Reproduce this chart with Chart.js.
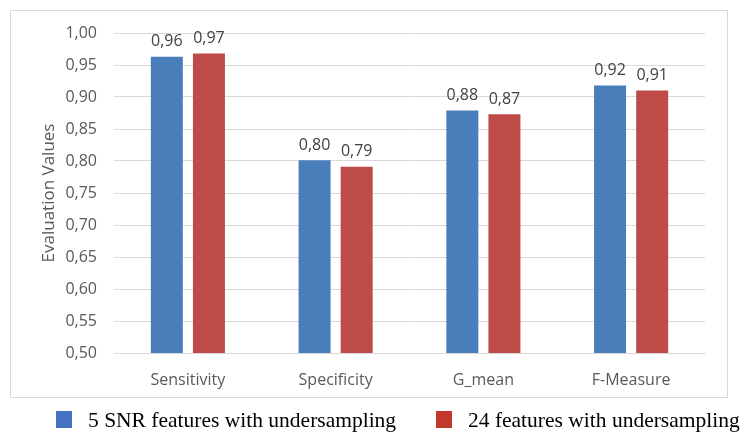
<!DOCTYPE html>
<html>
<head>
<meta charset="utf-8">
<script src="https://cdn.jsdelivr.net/npm/chart.js@4"></script>
<style>
html,body{margin:0;padding:0;background:#fff;}
#wrap{width:743px;height:434px;position:relative;}
</style>
</head>
<body>
<div id="wrap"><canvas id="c" width="743" height="434"></canvas></div>
<script>
const categories = ["Sensitivity", "Specificity", "G_mean", "F-Measure"];
const series1Name = "5 SNR features with undersampling";
const series2Name = "24 features with undersampling";
const series1 = [0.963, 0.801, 0.879, 0.918];
const series2 = [0.968, 0.791, 0.873, 0.910];
const yTicks = [0.50, 0.55, 0.60, 0.65, 0.70, 0.75, 0.80, 0.85, 0.90, 0.95, 1.00];

const fmt = v => v.toFixed(2).replace('.', ',');
const TXT = '#595959';
const SANS = '"Open Sans", "Noto Sans", sans-serif';

const deco = {
  id: 'deco',
  beforeDraw(chart) {
    const ctx = chart.ctx;
    ctx.save();
    ctx.fillStyle = '#fff';
    ctx.fillRect(0, 0, chart.width, chart.height);
    ctx.strokeStyle = '#d9d9d9';
    ctx.lineWidth = 1;
    ctx.strokeRect(10.5, 10.5, 717, 387);
    ctx.restore();
  },
  afterDraw(chart) {
    const ctx = chart.ctx;
    ctx.save();
    // value labels
    ctx.font = '16px ' + SANS;
    ctx.fillStyle = '#404040';
    ctx.textAlign = 'center';
    ctx.textBaseline = 'bottom';
    chart.data.datasets.forEach((ds, i) => {
      const meta = chart.getDatasetMeta(i);
      meta.data.forEach((bar, j) => {
        ctx.fillText(fmt(ds.data[j]), bar.x, bar.y - 7);
      });
    });
    // y axis title
    ctx.save();
    ctx.translate(49, 193);
    ctx.rotate(-Math.PI / 2);
    ctx.textAlign = 'center';
    ctx.textBaseline = 'middle';
    ctx.fillStyle = TXT;
    ctx.font = '17px ' + SANS;
    ctx.fillText('Evaluation Values', 0, 0);
    ctx.restore();
    // legend
    const items = [
      {x: 56, color: '#4472C4', label: chart.data.datasets[0].label},
      {x: 436, color: '#C0392B', label: chart.data.datasets[1].label}
    ];
    ctx.font = '21.5px "Liberation Serif", "Times New Roman", serif';
    ctx.textAlign = 'left';
    ctx.textBaseline = 'middle';
    items.forEach(it => {
      ctx.fillStyle = it.color;
      ctx.fillRect(it.x, 411, 16, 17);
      ctx.fillStyle = '#000';
      ctx.fillText(it.label, it.x + 32, 421);
    });
    ctx.restore();
  }
};

new Chart(document.getElementById('c'), {
  type: 'bar',
  data: {
    labels: categories,
    datasets: [
      {label: series1Name, data: series1, backgroundColor: '#4A7EBB', categoryPercentage: 0.57, barPercentage: 0.76},
      {label: series2Name, data: series2, backgroundColor: '#BE4B48', categoryPercentage: 0.57, barPercentage: 0.76}
    ]
  },
  options: {
    responsive: false,
    animation: false,
    devicePixelRatio: 1,
    layout: {padding: {left: 0, right: 38, top: 33, bottom: 0}},
    plugins: {legend: {display: false}, tooltip: {enabled: false}},
    scales: {
      x: {
        grid: {display: false},
        border: {display: true, color: '#d9d9d9'},
        ticks: {color: TXT, font: {family: SANS, size: 16}, padding: 10},
        afterFit(s) { s.height = 81; }
      },
      y: {
        min: 0.5, max: 1.0,
        afterBuildTicks(s) { s.ticks = yTicks.map(v => ({value: v})); },
        grid: {color: '#d9d9d9', drawTicks: false},
        border: {display: false},
        ticks: {color: TXT, font: {family: SANS, size: 16}, padding: 17, callback: v => fmt(v)},
        afterFit(s) { s.width = 114; }
      }
    }
  },
  plugins: [deco]
});
</script>
</body>
</html>
